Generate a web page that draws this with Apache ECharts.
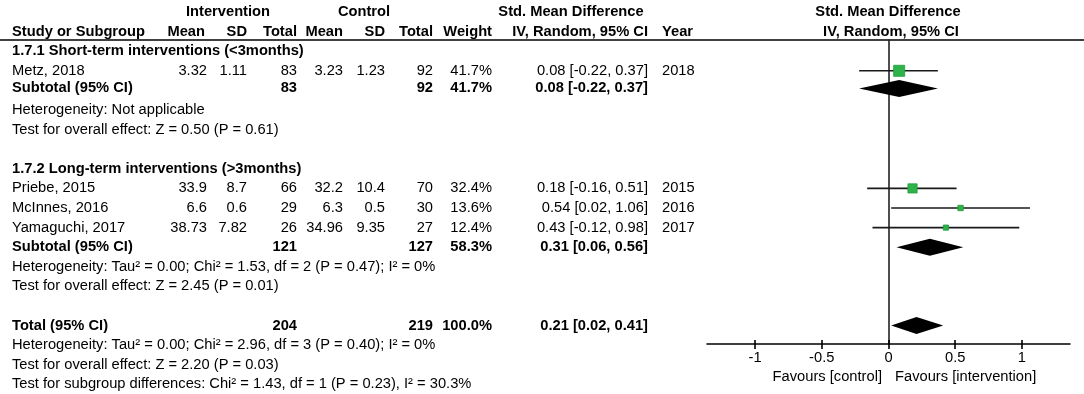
<!DOCTYPE html>
<html>
<head>
<meta charset="utf-8">
<script src="https://cdn.jsdelivr.net/npm/echarts@6/dist/echarts.min.js"></script>
<style>
html,body{margin:0;padding:0;background:#fff;}
#chart{width:1084px;height:394px;}
</style>
</head>
<body>
<div id="chart"></div>
<script>
// ---------- data ----------
const studies   = ['Metz, 2018', 'Priebe, 2015', 'McInnes, 2016', 'Yamaguchi, 2017'];
const intMean   = [3.32, 33.9, 6.6, 38.73];
const intSD     = [1.11, 8.7, 0.6, 7.82];
const intN      = [83, 66, 29, 26];
const ctlMean   = [3.23, 32.2, 6.3, 34.96];
const ctlSD     = [1.23, 10.4, 0.5, 9.35];
const ctlN      = [92, 70, 30, 27];
const weights   = [41.7, 32.4, 13.6, 12.4];
const smd       = [0.08, 0.18, 0.54, 0.43];
const ciLow     = [-0.22, -0.16, 0.02, -0.12];
const ciHigh    = [0.37, 0.51, 1.06, 0.98];
const years     = [2018, 2015, 2016, 2017];

const groupNames  = ['1.7.1 Short-term interventions (<3months)', '1.7.2 Long-term interventions (>3months)'];
const groupIntN   = [83, 121];
const groupCtlN   = [92, 127];
const groupWeight = [41.7, 58.3];
const groupSmd    = [0.08, 0.31];
const groupLow    = [-0.22, 0.06];
const groupHigh   = [0.37, 0.56];
const groupHet    = ['Heterogeneity: Not applicable',
                     'Heterogeneity: Tau² = 0.00; Chi² = 1.53, df = 2 (P = 0.47); I² = 0%'];
const groupTest   = ['Test for overall effect: Z = 0.50 (P = 0.61)',
                     'Test for overall effect: Z = 2.45 (P = 0.01)'];

const totalIntN = 204, totalCtlN = 219, totalWeight = 100.0;
const totalSmd = 0.21, totalLow = 0.02, totalHigh = 0.41;
const totalHet  = 'Heterogeneity: Tau² = 0.00; Chi² = 2.96, df = 3 (P = 0.40); I² = 0%';
const totalTest = 'Test for overall effect: Z = 2.20 (P = 0.03)';
const subgroupTest = 'Test for subgroup differences: Chi² = 1.43, df = 1 (P = 0.23), I² = 30.3%';

const xTicks = [-1, -0.5, 0, 0.5, 1];
const axisTitles = ['Favours [control]', 'Favours [intervention]'];

// ---------- layout ----------
const ROW0 = 12, ROWH = 19.6;
const rowY = r => ROW0 + r * ROWH;
const studyRow = [3, 9, 10, 11];
const groupHeadRow = [2, 8];
const groupSubRow = [3.9, 12];
const groupHetRow = [5, 13];
const groupTestRow = [6, 14];
const totalRow = 16, totalHetRow = 17, totalTestRow = 18, subTestRow = 19;

const FAM = '"Liberation Sans", Arial, Helvetica, sans-serif';
const FS = 14.7;
const F  = FS + 'px ' + FAM;
const FB = 'bold ' + FS + 'px ' + FAM;
const col = {iMean: 207, iSD: 247, iN: 297, cMean: 343, cSD: 385, cN: 433, w: 492, ci: 648, year: 662, name: 12};

const PLOT_L = 707, PLOT_R = 1070, PLOT_T = 40, AXIS_Y = 344;

const fmtCI = (e, l, h) => e.toFixed(2) + ' [' + l.toFixed(2) + ', ' + h.toFixed(2) + ']';

const graphics = [];
function txt(s, x, r, align, bold) {
  graphics.push({type: 'text', silent: true, style: {
    text: String(s), x: x, y: rowY(r), align: align || 'left', verticalAlign: 'middle',
    font: bold ? FB : F, fill: '#000'}});
}
// headers
txt('Intervention', 228, 0, 'center', true);
txt('Control', 364, 0, 'center', true);
txt('Std. Mean Difference', 571, 0, 'center', true);
txt('Std. Mean Difference', 888, 0, 'center', true);
txt('Study or Subgroup', col.name, 1, 'left', true);
txt('Mean', col.iMean - 2, 1, 'right', true);
txt('SD', col.iSD, 1, 'right', true);
txt('Total', col.iN, 1, 'right', true);
txt('Mean', col.cMean, 1, 'right', true);
txt('SD', col.cSD, 1, 'right', true);
txt('Total', col.cN, 1, 'right', true);
txt('Weight', col.w, 1, 'right', true);
txt('IV, Random, 95% CI', col.ci, 1, 'right', true);
txt('Year', col.year, 1, 'left', true);
txt('IV, Random, 95% CI', 891, 1, 'center', true);
graphics.push({type: 'line', silent: true, shape: {x1: 0, y1: 40, x2: 1084, y2: 40},
  style: {stroke: '#000', lineWidth: 1.6}});

// studies
studies.forEach((s, i) => {
  const r = studyRow[i];
  txt(s, col.name, r);
  txt(intMean[i], col.iMean, r, 'right');
  txt(intSD[i], col.iSD, r, 'right');
  txt(intN[i], col.iN, r, 'right');
  txt(ctlMean[i], col.cMean, r, 'right');
  txt(ctlSD[i], col.cSD, r, 'right');
  txt(ctlN[i], col.cN, r, 'right');
  txt(weights[i].toFixed(1) + '%', col.w, r, 'right');
  txt(fmtCI(smd[i], ciLow[i], ciHigh[i]), col.ci, r, 'right');
  txt(years[i], col.year, r);
});
// groups
groupNames.forEach((g, k) => {
  txt(g, col.name, groupHeadRow[k], 'left', true);
  const r = groupSubRow[k];
  txt('Subtotal (95% CI)', col.name, r, 'left', true);
  txt(groupIntN[k], col.iN, r, 'right', true);
  txt(groupCtlN[k], col.cN, r, 'right', true);
  txt(groupWeight[k].toFixed(1) + '%', col.w, r, 'right', true);
  txt(fmtCI(groupSmd[k], groupLow[k], groupHigh[k]), col.ci, r, 'right', true);
  txt(groupHet[k], col.name, groupHetRow[k]);
  txt(groupTest[k], col.name, groupTestRow[k]);
});
// total
txt('Total (95% CI)', col.name, totalRow, 'left', true);
txt(totalIntN, col.iN, totalRow, 'right', true);
txt(totalCtlN, col.cN, totalRow, 'right', true);
txt(totalWeight.toFixed(1) + '%', col.w, totalRow, 'right', true);
txt(fmtCI(totalSmd, totalLow, totalHigh), col.ci, totalRow, 'right', true);
txt(totalHet, col.name, totalHetRow);
txt(totalTest, col.name, totalTestRow);
txt(subgroupTest, col.name, subTestRow);

// axis titles
graphics.push({type: 'text', silent: true, style: {text: axisTitles[0], x: 882, y: 377,
  align: 'right', verticalAlign: 'middle', font: F, fill: '#000'}});
graphics.push({type: 'text', silent: true, style: {text: axisTitles[1], x: 895, y: 377,
  align: 'left', verticalAlign: 'middle', font: F, fill: '#000'}});

// ---------- series data ----------
const ciData = studies.map((s, i) => [ciLow[i], ciHigh[i], studyRow[i]]);
const sqData = studies.map((s, i) => ({value: [smd[i], studyRow[i]], symbolSize: 0.2 * weights[i] + 2.7}));
const diaData = groupSmd.map((e, k) => [groupLow[k], e, groupHigh[k], groupSubRow[k]])
  .concat([[totalLow, totalSmd, totalHigh, totalRow]]);

const yMin = (PLOT_T - ROW0) / ROWH, yMax = (AXIS_Y - ROW0) / ROWH;

const chart = echarts.init(document.getElementById('chart'), null, {renderer: 'canvas'});
chart.setOption({
  animation: false,
  backgroundColor: '#fff',
  grid: {left: PLOT_L, top: PLOT_T, width: PLOT_R - PLOT_L, height: AXIS_Y - PLOT_T},
  xAxis: [{
    type: 'value', min: -1.36, max: 1.36, position: 'bottom',
    axisLine: {show: true, lineStyle: {color: '#000', width: 1.6}},
    axisTick: {show: true, length: 5, customValues: xTicks, lineStyle: {color: '#000', width: 1.6}},
    axisLabel: {show: true, customValues: xTicks, margin: 6, color: '#000', fontSize: FS, fontFamily: FAM},
    splitLine: {show: false}
  }, {
    type: 'value', min: -1.36, max: 1.36, position: 'bottom', offset: 0,
    axisLine: {show: false},
    axisTick: {show: true, inside: true, length: 4, customValues: xTicks, lineStyle: {color: '#000', width: 1.6}},
    axisLabel: {show: false},
    splitLine: {show: false}
  }],
  yAxis: {
    type: 'value', inverse: true, min: yMin, max: yMax,
    axisLine: {show: true, onZero: true, lineStyle: {color: '#222', width: 1.6}},
    axisTick: {show: false}, axisLabel: {show: false}, splitLine: {show: false}
  },
  graphic: graphics,
  series: [{
    type: 'custom', name: 'ci', data: ciData, clip: false,
    renderItem: (params, api) => {
      const a = api.coord([api.value(0), api.value(2)]);
      const b = api.coord([api.value(1), api.value(2)]);
      return {type: 'line', shape: {x1: a[0], y1: a[1], x2: b[0], y2: b[1]},
        style: {stroke: '#1a1a1a', lineWidth: 1.6}};
    }
  }, {
    type: 'scatter', name: 'studies', data: sqData, symbol: 'rect',
    itemStyle: {color: '#2eb34b', borderColor: '#1f9a3c', borderWidth: 0.8, opacity: 1}, z: 5
  }, {
    type: 'custom', name: 'pooled', data: diaData, clip: false,
    renderItem: (params, api) => {
      const r = api.value(3);
      const l = api.coord([api.value(0), r]);
      const m = api.coord([api.value(1), r]);
      const h = api.coord([api.value(2), r]);
      const hh = 8.5;
      return {type: 'polygon', shape: {points: [[l[0], l[1]], [m[0], m[1] - hh], [h[0], h[1]], [m[0], m[1] + hh]]},
        style: {fill: '#000'}};
    }
  }]
});
</script>
</body>
</html>
